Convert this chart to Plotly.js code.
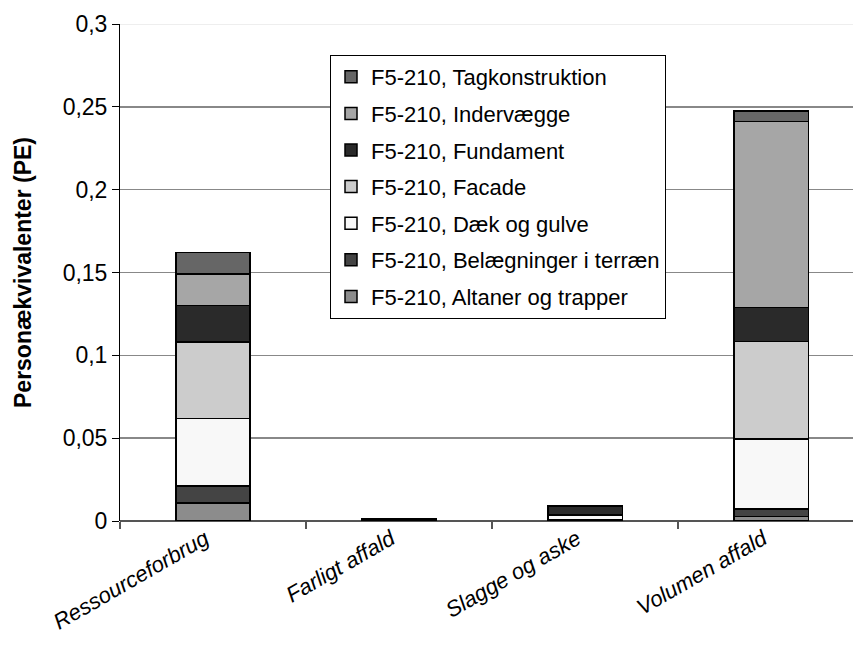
<!DOCTYPE html>
<html>
<head>
<meta charset="utf-8">
<script src="https://cdn.plot.ly/plotly-3.0.1.min.js"></script>
<style>html,body{margin:0;padding:0;background:#fff;}#chart{width:853px;height:664px;}</style>
</head>
<body>
<div id="chart"></div>
<script>
var categories = ["Ressourceforbrug", "Farligt affald", "Slagge og aske", "Volumen affald"];
var seriesNames = [
  "F5-210, Altaner og trapper",
  "F5-210, Belægninger i terræn",
  "F5-210, Dæk og gulve",
  "F5-210, Facade",
  "F5-210, Fundament",
  "F5-210, Indervægge",
  "F5-210, Tagkonstruktion"
];
var altaner       = [0.011, 0.0001, 0.0005, 0.0026];
var belaegninger  = [0.010, 0.0002, 0.0005, 0.0046];
var daek          = [0.041, 0.0003, 0.0022, 0.0423];
var facade        = [0.046, 0.0002, 0.0005, 0.0590];
var fundament     = [0.022, 0.0003, 0.0050, 0.0205];
var indervaegge   = [0.019, 0.0001, 0.0005, 0.1120];
var tagkonstr     = [0.013, 0.0001, 0.0003, 0.0065];
var yTickVals = [0, 0.05, 0.1, 0.15, 0.2, 0.25, 0.3];
var yTickText = ["0", "0,05", "0,1", "0,15", "0,2", "0,25", "0,3"];

var seriesValues = [altaner, belaegninger, daek, facade, fundament, indervaegge, tagkonstr];
var colors = ["#8c8c8c", "#444444", "#f8f8f8", "#cccccc", "#2a2a2a", "#a6a6a6", "#666666"];

var traces = seriesValues.map(function (vals, i) {
  return {
    type: "bar",
    name: seriesNames[i],
    x: categories,
    y: vals,
    width: 0.4,
    legendgroup: "g" + i,
    legendrank: 100 - i,
    marker: { color: colors[i], line: { color: "#000", width: 1.5 } },
    hoverinfo: "name+y"
  };
});

var layout = {
  width: 853,
  height: 664,
  margin: { l: 120, r: 0, t: 24, b: 143 },
  paper_bgcolor: "#fff",
  plot_bgcolor: "#fff",
  barmode: "stack",
  font: { family: "Liberation Sans, Arial, sans-serif", size: 22, color: "#000" },
  xaxis: {
    type: "category",
    range: [-0.5, 3.44],
    tickson: "boundaries",
    ticks: "outside",
    ticklen: 7,
    tickcolor: "#555",
    tickwidth: 1.5,
    showline: false,
    showgrid: false,
    zeroline: false,
    tickangle: -30,
    ticklabelshift: -8,
    tickfont: { family: "Liberation Sans, Arial, sans-serif", size: 22, style: "italic" }
  },
  yaxis: {
    range: [0, 0.3],
    tickvals: yTickVals,
    ticktext: yTickText,
    ticks: "outside",
    ticklen: 7,
    tickcolor: "#000",
    showline: true,
    linecolor: "#000",
    linewidth: 1,
    showgrid: true,
    gridcolor: "#888",
    gridwidth: 1.5,
    zeroline: true,
    zerolinecolor: "#555",
    zerolinewidth: 1.5,
    tickfont: { size: 23 },
    title: { text: "<b>Personækvivalenter (PE)</b>", font: { size: 23 }, standoff: 24 }
  },
  legend: {
    x: 0.2865,
    y: 0.9376,
    xanchor: "left",
    yanchor: "top",
    traceorder: "grouped",
    tracegroupgap: 5,
    bordercolor: "#000",
    borderwidth: 1,
    bgcolor: "#fff",
    font: { size: 22 }
  },
  shapes: [
    { type: "line", xref: "paper", yref: "y", x0: 0, x1: 1, y0: 0.3, y1: 0.3, line: { color: "#eeeeee", width: 2 } }
  ],
  showlegend: true
};

Plotly.newPlot("chart", traces, layout, { displayModeBar: false, staticPlot: true });
</script>
</body>
</html>
